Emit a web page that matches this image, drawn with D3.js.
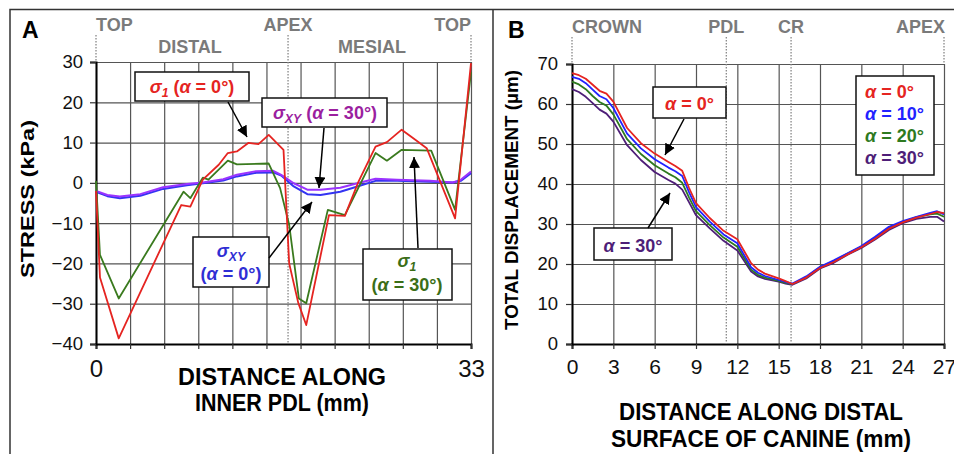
<!DOCTYPE html>
<html>
<head>
<meta charset="utf-8">
<script src="https://d3js.org/d3.v7.min.js"></script>
<style>
  body { margin: 0; background: #fff; }
  svg text { font-family: Arial, "Liberation Sans", sans-serif; font-weight: bold; }
  .narrow text, text.narrow { font-family: "Liberation Sans Narrow", "Arial Narrow", Arial, "Liberation Sans", sans-serif; }
  .grid line { stroke: #555; stroke-width: 1.2; }
  .grid path { display: none; }
</style>
</head>
<body>
<script>
// ---- panel A : stress along inner PDL (mm, kPa)
var stressTicks = [-40, -30, -20, -10, 0, 10, 20, 30];
var pdlTicks = [0, 3, 6, 9, 12, 15, 18, 21, 24, 27, 30, 33];

var s1a0X = [0, 0.35, 2.0, 7.5, 8.3, 9.4, 10.8, 11.6, 12.4, 13.4, 14.3, 15.2, 16.5, 17.0, 17.8, 18.5, 20.5, 21.9, 23.1, 24.6, 25.6, 26.9, 28.1, 29.1, 31.6, 33];
var s1a0 = [-2, -23.5, -38.6, -5.5, -5.9, 0.8, 4.5, 7.4, 7.8, 9.9, 9.6, 11.9, 8.2, -20, -29.8, -35.3, -8.0, -8.2, 0.3, 9.0, 10.1, 13.2, 10.7, 8.6, -8.8, 29.7];

var s1a30X = [0, 0.35, 2.0, 7.7, 8.3, 9.4, 9.9, 11.6, 12.4, 15.2, 16.2, 17.0, 17.85, 18.5, 20.4, 21.9, 24.6, 25.6, 26.9, 29.5, 31.6, 33];
var s1a30 = [0.5, -17.9, -28.7, -2.2, -3.8, 1.3, 0.8, 5.5, 4.6, 4.8, -1.3, -10.4, -28.7, -29.9, -6.7, -8.0, 7.4, 5.5, 8.2, 8.0, -6.7, 27.5];

var sxyX = [0, 1, 2.1, 3.9, 5.9, 8.0, 9.4, 11.2, 12.4, 14.1, 15.6, 16.3, 17.4, 18.6, 19.75, 21.5, 23, 24.6, 26.5, 29.4, 31.4, 32.1, 33];
var sxya0 = [-2.2, -3.3, -3.8, -3.2, -1.5, -0.6, -0.1, 0.6, 1.6, 2.5, 2.6, 1.8, -0.9, -2.8, -3.0, -2.2, -0.9, 0.5, 0.5, 0.3, 0.1, 0.5, 2.4];
var sxya30 = [-2.0, -3.0, -3.4, -2.8, -1.1, -0.3, 0.1, 0.9, 2.0, 2.9, 3.0, 2.0, -0.1, -1.7, -1.7, -1.2, -0.1, 1.0, 0.8, 0.5, 0.1, 0.75, 2.8];

// ---- panel B : total displacement along distal surface (mm, µm)
var dispTicks = [0, 10, 20, 30, 40, 50, 60, 70];
var surfTicks = [0, 3, 6, 9, 12, 15, 18, 21, 24, 27];
var surfX = [0, 0.5, 1, 1.5, 2, 2.5, 3, 4, 5, 6, 7, 7.5, 8, 8.5, 9, 10, 11, 12, 13, 13.5, 14, 15, 15.5, 16, 17, 18, 19, 20, 21, 22, 23, 24, 25, 26, 26.5, 27];
var dispA0  = [67.7, 67.2, 66.3, 64.8, 63.3, 62.6, 60.6, 54.0, 50.2, 47.6, 45.5, 44.5, 43.3, 39.0, 35.2, 31.5, 28.3, 26.2, 20.2, 18.6, 17.6, 16.4, 15.7, 15.0, 16.6, 19.0, 20.5, 22.4, 24.2, 26.3, 28.8, 30.4, 31.6, 32.5, 33.0, 32.7];
var dispA10 = [66.8, 66.3, 65.2, 63.6, 62.0, 61.2, 59.0, 52.6, 48.9, 46.2, 44.1, 43.2, 42.0, 37.9, 34.2, 30.6, 27.4, 25.2, 19.2, 17.8, 17.0, 16.0, 15.5, 15.1, 16.9, 19.3, 20.9, 22.7, 24.5, 26.8, 29.3, 30.7, 31.8, 32.8, 33.2, 32.4];
var dispA20 = [65.6, 64.9, 63.7, 62.0, 60.5, 59.6, 57.4, 51.2, 47.5, 44.7, 42.6, 41.7, 40.3, 36.6, 33.2, 29.7, 26.6, 24.3, 18.6, 17.3, 16.6, 15.8, 15.3, 15.0, 16.7, 19.2, 20.7, 22.6, 24.3, 26.6, 29.0, 30.5, 31.7, 32.4, 32.6, 31.8];
var dispA30 = [63.7, 63.0, 61.8, 60.2, 58.6, 57.6, 55.6, 49.7, 46.0, 43.0, 41.0, 40.1, 38.6, 35.4, 32.2, 28.9, 25.8, 23.4, 18.1, 16.9, 16.3, 15.6, 15.1, 14.8, 16.4, 18.9, 20.3, 22.3, 24.0, 26.1, 28.5, 30.2, 31.3, 31.8, 31.8, 30.6];
var alphaNames = ["0", "10", "20", "30"];

var svg = d3.select("body").append("svg")
    .attr("width", 954)
    .attr("height", 454);

svg.append("defs").append("marker")
    .attr("id", "arrow")
    .attr("viewBox", "0 0 10 10")
    .attr("refX", 10).attr("refY", 5)
    .attr("markerWidth", 11).attr("markerHeight", 11)
    .attr("markerUnits", "userSpaceOnUse")
    .attr("orient", "auto")
    .append("path").attr("d", "M0,0 L10,5 L0,10 z").attr("fill", "black");

// frame of the figure
svg.append("path")
    .attr("d", "M10,454 L10,9.5 L954,9.5 M493,9.5 L493,454")
    .attr("fill", "none").attr("stroke", "#333").attr("stroke-width", 1.5);

var red = "#e52421", green = "#3a7a1e", blue = "#3434f2", violet = "#9a33ff";

// ================= panel A =================
var xA = d3.scaleLinear().domain([0, 33]).range([96, 471]);
var yA = d3.scaleLinear().domain([-40, 30]).range([344, 62]);

svg.append("g").attr("class", "grid")
    .attr("transform", "translate(0,344)")
    .call(d3.axisBottom(xA).tickValues(pdlTicks).tickSize(-282).tickFormat(""));
svg.append("g").attr("class", "grid")
    .attr("transform", "translate(96,0)")
    .call(d3.axisLeft(yA).tickValues(stressTicks).tickSize(-375).tickFormat(""));

var axA = svg.append("g").attr("class", "narrow")
    .attr("transform", "translate(0,344)")
    .call(d3.axisBottom(xA).tickValues(pdlTicks).tickSize(5).tickPadding(11)
        .tickFormat(function (d) { return (d === 0 || d === 33) ? d : ""; }));
axA.selectAll("text").attr("font-size", 24).attr("fill", "#111").style("font-weight", "normal");

var ayA = svg.append("g")
    .attr("transform", "translate(96,0)")
    .call(d3.axisLeft(yA).tickValues(stressTicks).tickSize(6).tickPadding(7));
ayA.selectAll("text").attr("font-size", 18.5).attr("fill", "#111").style("font-weight", "normal");

[axA, ayA].forEach(function (a) {
    a.select(".domain").attr("stroke", "black").attr("stroke-width", 2);
    a.selectAll(".tick line").attr("stroke", "#333").attr("stroke-width", 1.2);
});

function dotted(x, y1, y2) {
    svg.append("line")
        .attr("x1", x).attr("x2", x).attr("y1", y1).attr("y2", y2)
        .attr("stroke", "#888").attr("stroke-width", 1.3)
        .attr("stroke-dasharray", "1.5,1.5");
}
dotted(xA(0), 35, 62);
dotted(xA(16.9), 35, 344);
dotted(xA(33), 35, 62);

function grayLabel(txt, x, y, anchor) {
    svg.append("text").attr("x", x).attr("y", y)
        .attr("text-anchor", anchor).attr("font-size", 18)
        .attr("fill", "#7a7a7a").text(txt);
}
grayLabel("TOP", xA(0), 31, "start");
grayLabel("DISTAL", 190, 53, "middle");
grayLabel("APEX", xA(16.9), 31, "middle");
grayLabel("MESIAL", 372, 53, "middle");
grayLabel("TOP", xA(33), 31, "end");

var lineA = d3.line().x(function (d) { return xA(d[0]); }).y(function (d) { return yA(d[1]); });
function drawA(xs, vs, col, w) {
    svg.append("path").datum(d3.zip(xs, vs))
        .attr("d", lineA).attr("fill", "none")
        .attr("stroke", col).attr("stroke-width", w).attr("stroke-linejoin", "round");
}
drawA(sxyX, sxya0, blue, 2);
drawA(sxyX, sxya30, violet, 2);
drawA(s1a30X, s1a30, green, 1.8);
drawA(s1a0X, s1a0, red, 1.8);

svg.append("text").attr("x", 22).attr("y", 38).attr("font-size", 23).text("A");

svg.append("text")
    .attr("transform", "translate(34,199) rotate(-90)")
    .attr("text-anchor", "middle").attr("font-size", 18)
    .attr("textLength", 158).attr("lengthAdjust", "spacingAndGlyphs")
    .text("STRESS (kPa)");

svg.append("text").attr("class", "narrow")
    .attr("x", 282).attr("y", 385).attr("text-anchor", "middle").attr("font-size", 24)
    .attr("textLength", 208).attr("lengthAdjust", "spacingAndGlyphs")
    .text("DISTANCE ALONG");
svg.append("text").attr("class", "narrow")
    .attr("x", 282).attr("y", 411).attr("text-anchor", "middle").attr("font-size", 24)
    .attr("textLength", 174).attr("lengthAdjust", "spacingAndGlyphs")
    .text("INNER PDL (mm)");

// callouts
function box(x1, y1, x2, y2) {
    svg.append("rect").attr("x", x1).attr("y", y1)
        .attr("width", x2 - x1).attr("height", y2 - y1)
        .attr("fill", "white").attr("stroke", "#111").attr("stroke-width", 1.5);
}
function arrow(x1, y1, x2, y2) {
    svg.append("line").attr("x1", x1).attr("y1", y1).attr("x2", x2).attr("y2", y2)
        .attr("stroke", "black").attr("stroke-width", 1.5)
        .attr("marker-end", "url(#arrow)");
}
// parts: [text, italic, sub]
function rich(x, y, col, size, parts) {
    var t = svg.append("text").attr("x", x).attr("y", y)
        .attr("text-anchor", "middle").attr("font-size", size).attr("fill", col);
    var shifted = false;
    parts.forEach(function (p) {
        var s = t.append("tspan").text(p[0]);
        if (p[1]) s.attr("font-style", "italic");
        if (p[2]) { s.attr("font-size", size * 0.68).attr("dy", 4); shifted = true; }
        else if (shifted) { s.attr("dy", -4); shifted = false; }
    });
}

box(135, 72, 249, 101);
rich(192, 93, red, 18, [["σ", 1], ["1", 1, 1], [" (", 0], ["α", 1], [" = 0°)", 0]]);
arrow(228, 102, 247, 137);

box(262, 98, 387, 127);
rich(325, 119, "#9b1f9f", 18, [["σ", 1], ["XY", 1, 1], [" (", 0], ["α", 1], [" = 30°)", 0]]);
arrow(324, 128, 319, 188);

box(193, 237, 269, 287);
rich(231, 257, "#2f2fd4", 18, [["σ", 1], ["XY", 1, 1]]);
rich(231, 280, "#2f2fd4", 18, [["(", 0], ["α", 1], [" = 0°)", 0]]);
arrow(269, 258, 312, 202);

box(363, 249, 452, 300);
rich(407, 267, "#3b6e17", 18, [["σ", 1], ["1", 1, 1]]);
rich(407, 291, "#3b6e17", 18, [["(", 0], ["α", 1], [" = 30°)", 0]]);
arrow(418, 248, 414, 157);

// ================= panel B =================
var xB = d3.scaleLinear().domain([0, 27]).range([572, 944]);
var yB = d3.scaleLinear().domain([0, 70]).range([344, 64]);

svg.append("g").attr("class", "grid")
    .attr("transform", "translate(0,344)")
    .call(d3.axisBottom(xB).tickValues(surfTicks).tickSize(-280).tickFormat(""));
svg.append("g").attr("class", "grid")
    .attr("transform", "translate(572,0)")
    .call(d3.axisLeft(yB).tickValues(dispTicks).tickSize(-372).tickFormat(""));

var axB = svg.append("g").attr("class", "narrow")
    .attr("transform", "translate(0,344)")
    .call(d3.axisBottom(xB).tickValues(surfTicks).tickSize(5).tickPadding(10));
axB.selectAll("text").attr("font-size", 21).attr("fill", "#111").style("font-weight", "normal");

var ayB = svg.append("g")
    .attr("transform", "translate(572,0)")
    .call(d3.axisLeft(yB).tickValues(dispTicks).tickSize(6).tickPadding(8));
ayB.selectAll("text").attr("font-size", 18.5).attr("fill", "#111").style("font-weight", "normal");

[axB, ayB].forEach(function (a) {
    a.select(".domain").attr("stroke", "black").attr("stroke-width", 2);
    a.selectAll(".tick line").attr("stroke", "#333").attr("stroke-width", 1.2);
});

dotted(xB(0), 37, 64);
dotted(xB(11.2), 37, 344);
dotted(xB(15.9), 37, 344);
dotted(xB(27), 37, 64);
grayLabel("CROWN", xB(0), 33, "start");
grayLabel("PDL", xB(11.2), 33, "middle");
grayLabel("CR", xB(15.9), 33, "middle");
grayLabel("APEX", xB(27) + 1, 33, "end");

var colsB = [red, "#2222ff", "#2e7a1f", "#4e1e78"];
var lineB = d3.line().x(function (d) { return xB(d[0]); }).y(function (d) { return yB(d[1]); });
[dispA30, dispA20, dispA10, dispA0].forEach(function (vs, i) {
    svg.append("path").datum(d3.zip(surfX, vs))
        .attr("d", lineB).attr("fill", "none")
        .attr("stroke", colsB[3 - i]).attr("stroke-width", 1.8).attr("stroke-linejoin", "round");
});

svg.append("text").attr("x", 508).attr("y", 38).attr("font-size", 23).text("B");

svg.append("text")
    .attr("transform", "translate(518,200) rotate(-90)")
    .attr("text-anchor", "middle").attr("font-size", 18)
    .attr("textLength", 260).attr("lengthAdjust", "spacingAndGlyphs")
    .text("TOTAL DISPLACEMENT (µm)");

svg.append("text").attr("class", "narrow")
    .attr("x", 761).attr("y", 420).attr("text-anchor", "middle").attr("font-size", 23)
    .attr("textLength", 284).attr("lengthAdjust", "spacingAndGlyphs")
    .text("DISTANCE ALONG DISTAL");
svg.append("text").attr("class", "narrow")
    .attr("x", 761).attr("y", 447).attr("text-anchor", "middle").attr("font-size", 23)
    .attr("textLength", 300).attr("lengthAdjust", "spacingAndGlyphs")
    .text("SURFACE OF CANINE (mm)");

// legend
box(856, 76, 934, 175);
alphaNames.forEach(function (a, i) {
    var t = svg.append("text").attr("x", 865).attr("y", 98 + i * 22)
        .attr("font-size", 18).attr("fill", colsB[i]);
    t.append("tspan").attr("font-style", "italic").text("α");
    t.append("tspan").text(" = " + a + "°");
});

box(653, 87, 726, 118);
rich(689.5, 110, red, 18, [["α", 1], [" = 0°", 0]]);
arrow(684, 119, 665, 155);

box(594, 228, 672, 260);
rich(633, 252, "#4e1e78", 18, [["α", 1], [" = 30°", 0]]);
arrow(648, 228, 670, 193);
</script>
</body>
</html>
